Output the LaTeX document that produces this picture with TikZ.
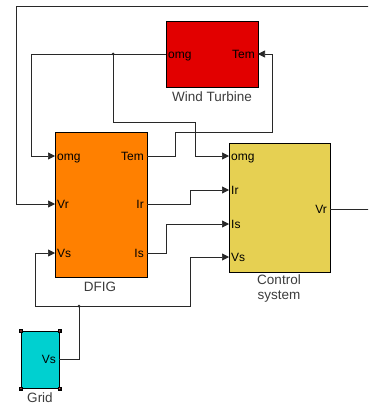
\documentclass[tikz,border=0pt]{standalone}
\usepackage{fontspec}
\setmainfont{Liberation Sans}
\definecolor{turbred}{RGB}{226,0,0}
\definecolor{dfigorange}{RGB}{255,128,0}
\definecolor{ctrlyellow}{RGB}{230,208,82}
\definecolor{gridcyan}{RGB}{0,208,208}
\definecolor{wiregray}{RGB}{40,40,40}
\definecolor{capgray}{RGB}{60,60,60}
\definecolor{handlered}{RGB}{240,80,80}
\usetikzlibrary{arrows.meta,positioning,calc}

\begin{document}
\begin{tikzpicture}[x=1pt,y=-1pt,
  block/.style={draw=black, line width=0.6pt, anchor=north west, inner sep=0pt},
  port/.style={font=\fontsize{12}{13}\selectfont, inner sep=1pt},
  inport/.style={port, anchor=base west},
  outport/.style={port, anchor=base east},
  blocklabel/.style={font=\fontsize{13.5}{15}\selectfont, text=capgray, align=center},
  wire/.style={draw=wiregray, line width=0.7pt},
  sig/.style={wire, -{Triangle[length=7pt,width=7pt]}},
  handle/.style={fill=black, minimum size=4pt, inner sep=0pt}]
  \path[use as bounding box, clip] (0,0) rectangle (368,409);

  % Wind turbine
  \node[block, fill=turbred, minimum width=92, minimum height=66] (turbine) at (166,21) {};
  \node[blocklabel] (turbinecap) at (212,97) {Wind Turbine};
  \coordinate (t-omg) at (166,54);
  \coordinate (t-tem) at (258,54);
  \node[inport] at ($(t-omg)+(1,4.5)$) {omg};
  \node[outport] at ($(t-tem)+(-2,4.5)$) {Tem};

  % DFIG
  \node[block, fill=dfigorange, minimum width=92, minimum height=145] (dfig) at (55,132) {};
  \node[blocklabel] (dfigcap) at (100,287) {DFIG};
  \coordinate (d-omg) at (55,156);
  \coordinate (d-vr) at (55,204);
  \coordinate (d-vs) at (55,253);
  \coordinate (d-tem) at (147,156);
  \coordinate (d-ir) at (147,204);
  \coordinate (d-is) at (147,253);
  \node[inport] at ($(d-omg)+(1,4.5)$) {omg};
  \node[inport] at ($(d-vr)+(1,4.5)$) {Vr};
  \node[inport] at ($(d-vs)+(1,4.5)$) {Vs};
  \node[outport] at ($(d-tem)+(-2,4.5)$) {Tem};
  \node[outport] at ($(d-ir)+(-2,4.5)$) {Ir};
  \node[outport] at ($(d-is)+(-2,4.5)$) {Is};

  % Control system
  \node[block, fill=ctrlyellow, minimum width=101, minimum height=129] (ctrl) at (229,143) {};
  \node[blocklabel] (ctrlcap) at (279,289) {Control\\system};
  \coordinate (c-omg) at (229,156);
  \coordinate (c-ir) at (229,190);
  \coordinate (c-is) at (229,224);
  \coordinate (c-vs) at (229,257);
  \coordinate (c-vr) at (330,209);
  \node[inport] at ($(c-omg)+(1,4.5)$) {omg};
  \node[inport] at ($(c-ir)+(1,4.5)$) {Ir};
  \node[inport] at ($(c-is)+(1,4.5)$) {Is};
  \node[inport] at ($(c-vs)+(1,4.5)$) {Vs};
  \node[outport] at ($(c-vr)+(-2,4.5)$) {Vr};

  % Grid
  \node[block, fill=gridcyan, minimum width=38, minimum height=57] (grid) at (21,331) {};
  \node[blocklabel] (gridcap) at (40,398) {Grid};
  \coordinate (g-vs) at (59,359);
  \node[outport] at ($(g-vs)+(-2,4.5)$) {Vs};
  \foreach \c in {north west,north east,south west,south east} {
    \node[handle] at (grid.\c) {};
    \fill[handlered] (grid.\c) circle (0.8);
  }

  % branch points
  \coordinate (jomg) at (113,54);
  \coordinate (jvs) at (79,306);
  \fill[wiregray] (jomg) circle (1.5);
  \fill[wiregray] (jvs) circle (1.5);

  % signal lines
  \draw[sig] (t-omg) -- (31,54) |- (d-omg);
  \draw[sig] (jomg) |- (195,122) |- (c-omg);
  \draw[sig] (d-tem) -| (175,132) -| (272,54) -- (t-tem);
  \draw[sig] (c-vr) -- (375,209) |- (16,6) |- (d-vr);
  \draw[sig] (d-ir) -| (190,190) -- (c-ir);
  \draw[sig] (d-is) -| (166,224) -- (c-is);
  \draw[wire] (g-vs) -| (jvs);
  \draw[sig] (jvs) -| (35,253) -- (d-vs);
  \draw[sig] (jvs) -| (190,257) -- (c-vs);
\end{tikzpicture}
\end{document}
